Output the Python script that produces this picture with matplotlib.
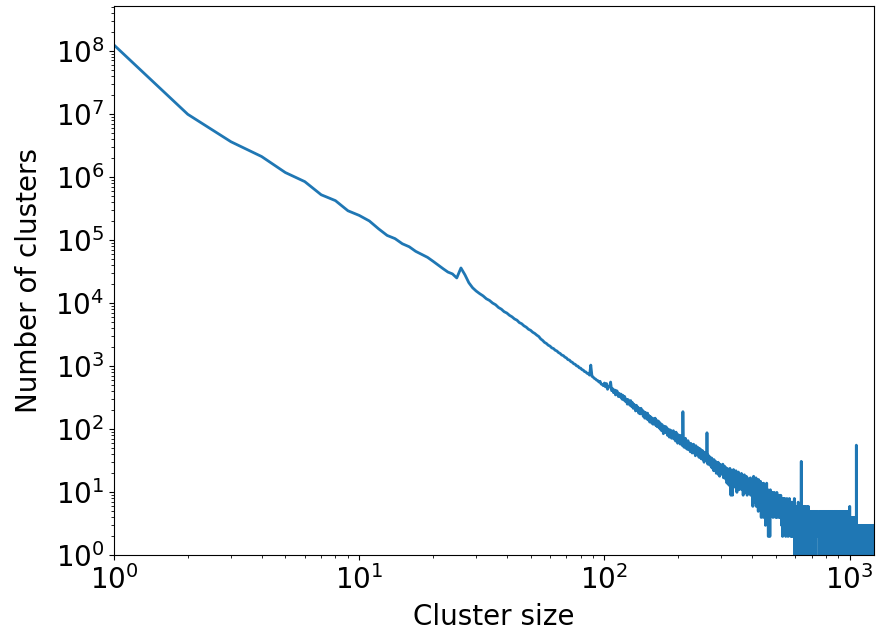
import numpy as np
import matplotlib
matplotlib.use("Agg")
import matplotlib.pyplot as plt

# Number of clusters for cluster sizes 1..99
head_counts = [
    1.23e8, 9.8e6, 3.6e6, 2.1e6, 1.17e6, 8.4e5, 5.2e5, 4.2e5, 2.9e5, 2.45e5,
    2.0e5, 1.5e5, 1.18e5, 1.05e5, 8.7e4, 7.8e4, 6.6e4, 5.9e4, 5.3e4, 4.6e4,
    4.0e4, 3.5e4, 3.1e4, 2.9e4, 2.5e4, 3.6e4, 2.8e4, 2.1e4, 1.75e4, 1.55e4,
    14100, 13000, 11700, 11000, 10000, 9400, 8500, 8000, 7300, 6950,
    6400, 6050, 5600, 5350, 4900, 4700, 4350, 4150, 3850, 3700,
    3450, 3300, 3100, 2950, 2700, 2560, 2380, 2290, 2150, 2080,
    1950, 1900, 1790, 1740, 1640, 1590, 1500, 1470, 1390, 1350,
    1270, 1250, 1180, 1150, 1090, 1070, 1010, 1000, 940, 930,
    880, 865, 820, 810, 770, 760, 720, 1040, 690, 670,
    640, 625, 600, 590, 560, 575, 520, 515, 490,
]

# Number of clusters for cluster sizes 100..1257 (estimated from the noisy tail)
tail_counts = [
    540, 470, 530, 430, 465, 475, 560, 410, 440, 380,
    420, 350, 410, 395, 330, 370, 325, 360, 300, 345,
    290, 330, 275, 300, 250, 295, 265, 240, 285, 230,
    265, 215, 250, 225, 195, 240, 200, 225, 180, 210,
    175, 215, 180, 200, 160, 190, 150, 185, 170, 145,
    180, 140, 165, 130, 158, 155, 125, 150, 120, 145,
    125, 150, 115, 140, 110, 130, 135, 105, 128, 100,
    122, 95, 118, 100, 85, 112, 108, 88, 110, 92,
    105, 80, 100, 90, 75, 98, 85, 95, 72, 92,
    78, 95, 70, 88, 80, 65, 90, 74, 82, 60,
    82, 64, 78, 70, 58, 80, 66, 72, 55, 190,
    70, 52, 68, 60, 72, 50, 65, 58, 48, 66,
    62, 48, 58, 52, 44, 60, 50, 55, 42, 56,
    48, 58, 42, 53, 45, 38, 55, 46, 50, 40,
    52, 40, 47, 36, 50, 42, 38, 48, 34, 45,
    38, 46, 33, 44, 40, 30, 43, 36, 41, 32,
    40, 32, 88, 35, 28, 39, 33, 30, 37, 27,
    36, 28, 33, 25, 35, 30, 24, 32, 29, 22,
    33, 26, 30, 22, 31, 27, 20, 30, 25, 28,
    24, 30, 19, 27, 25, 18, 28, 23, 21, 26,
    27, 21, 25, 19, 28, 22, 17, 24, 20, 26,
    22, 18, 25, 16, 23, 20, 14, 24, 19, 21,
    17, 23, 13, 20, 18, 24, 15, 19, 9, 22,
    18, 14, 21, 9, 20, 16, 23, 13, 17, 19,
    15, 20, 12, 18, 22, 14, 17, 10, 19, 16,
    18, 13, 21, 15, 11, 17, 19, 14, 16, 12,
    17, 13, 20, 11, 15, 18, 12, 16, 9, 14,
    16, 12, 19, 13, 10, 15, 17, 11, 14, 18,
    12, 15, 9, 17, 13, 11, 16, 14, 10, 13,
    15, 10, 14, 12, 17, 9, 13, 11, 16, 12,
    10, 16, 12, 6, 15, 11, 18, 7, 16, 12,
    11, 15, 7, 14, 10, 17, 6, 15, 11, 9,
    14, 8, 13, 10, 5, 16, 11, 7, 12, 10,
    7, 13, 10, 15, 6, 11, 4, 14, 10, 8,
    12, 6, 13, 9, 10, 4, 14, 8, 11, 7,
    10, 5, 13, 9, 3, 11, 5, 12, 8, 14,
    8, 10, 6, 9, 11, 7, 2, 9, 10, 8,
    9, 7, 10, 2, 8, 11, 6, 9, 7, 10,
    6, 9, 8, 5, 10, 7, 9, 4, 8, 7,
    9, 6, 8, 10, 5, 7, 9, 6, 8, 4,
    7, 9, 5, 8, 6, 10, 4, 7, 8, 6,
    8, 5, 7, 9, 6, 4, 8, 7, 5, 9,
    6, 8, 4, 7, 9, 5, 6, 8, 3, 7,
    5, 7, 6, 2, 8, 6, 4, 7, 5, 8,
    6, 4, 7, 5, 8, 3, 6, 5, 7, 2,
    5, 7, 4, 6, 3, 8, 5, 6, 4, 7,
    6, 2, 5, 7, 4, 6, 3, 5, 8, 4,
    5, 6, 3, 7, 4, 2, 6, 5, 4, 7,
    3, 6, 5, 2, 7, 4, 5, 3, 6, 4,
    5, 2, 6, 4, 3, 8, 4, 5, 0, 4,
    5, 3, 0, 6, 4, 2, 0, 5, 3, 4,
    0, 6, 2, 4, 5, 0, 3, 7, 1, 4,
    5, 0, 2, 6, 3, 4, 0, 5, 2, 3,
    6, 0, 4, 3, 5, 31, 2, 0, 4, 5,
    3, 6, 0, 2, 4, 5, 1, 0, 3, 6,
    4, 2, 0, 5, 3, 4, 0, 6, 2, 3,
    5, 0, 1, 4, 3, 0, 5, 2, 6, 0,
    3, 4, 2, 0, 5, 3, 1, 4, 0, 6,
    2, 3, 0, 5, 4, 1, 0, 3, 5, 2,
    0, 4, 3, 5, 0, 2, 4, 1, 0, 5,
    3, 2, 0, 4, 5, 1, 3, 0, 2, 4,
    0, 5, 3, 2, 0, 4, 1, 3, 5, 0,
    2, 4, 0, 3, 1, 5, 0, 2, 4, 3,
    2, 2, 5, 3, 4, 3, 2, 4, 3, 2,
    5, 3, 2, 4, 3, 2, 3, 4, 2, 3,
    0, 4, 2, 5, 0, 3, 1, 4, 0, 2,
    3, 5, 0, 2, 4, 1, 0, 3, 5, 2,
    0, 4, 2, 3, 0, 5, 1, 2, 0, 4,
    3, 0, 2, 5, 1, 3, 0, 4, 2, 0,
    3, 5, 1, 0, 4, 2, 3, 0, 5, 1,
    0, 3, 4, 2, 0, 5, 1, 3, 0, 2,
    4, 0, 3, 1, 5, 0, 2, 4, 0, 3,
    2, 5, 0, 1, 3, 4, 0, 2, 5, 0,
    3, 1, 4, 0, 2, 3, 0, 5, 1, 2,
    0, 4, 3, 0, 2, 5, 1, 0, 3, 4,
    2, 0, 3, 1, 5, 0, 2, 4, 0, 3,
    1, 4, 0, 2, 3, 0, 5, 1, 2, 0,
    4, 3, 0, 2, 1, 5, 0, 3, 2, 0,
    4, 1, 3, 0, 2, 5, 0, 1, 3, 4,
    0, 2, 3, 0, 5, 1, 2, 0, 4, 3,
    0, 1, 4, 2, 0, 3, 5, 0, 2, 1,
    3, 0, 4, 2, 0, 1, 3, 5, 0, 2,
    1, 4, 0, 3, 2, 0, 5, 1, 0, 3,
    2, 0, 4, 1, 3, 0, 2, 5, 0, 1,
    3, 2, 0, 4, 1, 0, 3, 2, 5, 0,
    1, 3, 0, 2, 4, 0, 1, 3, 0, 5,
    2, 0, 3, 1, 4, 0, 2, 3, 0, 1,
    4, 0, 2, 3, 0, 5, 1, 2, 0, 3,
    1, 4, 0, 2, 3, 0, 1, 5, 0, 2,
    3, 0, 1, 4, 2, 0, 3, 1, 0, 2,
    0, 6, 2, 0, 3, 1, 4, 0, 2, 3,
    0, 2, 4, 1, 0, 3, 2, 0, 4, 1,
    2, 0, 3, 2, 0, 4, 1, 0, 3, 2,
    0, 1, 4, 2, 0, 3, 0, 2, 1, 3,
    0, 2, 3, 0, 1, 4, 0, 2, 3, 0,
    2, 1, 0, 3, 2, 0, 4, 1, 0, 2,
    3, 0, 2, 1, 0, 56, 2, 0, 3, 1,
    0, 2, 3, 0, 1, 2, 0, 3, 2, 0,
    1, 3, 0, 2, 0, 3, 1, 0, 2, 3,
    0, 2, 1, 0, 3, 2, 0, 1, 3, 0,
    2, 3, 0, 1, 2, 0, 3, 2, 0, 1,
    3, 0, 2, 0, 3, 1, 0, 2, 3, 0,
    1, 2, 0, 3, 2, 0, 1, 3, 0, 2,
    0, 3, 1, 0, 2, 3, 0, 2, 0, 1,
    3, 0, 2, 1, 0, 3, 2, 0, 1, 2,
    0, 3, 0, 2, 1, 0, 3, 2, 0, 2,
    1, 0, 3, 2, 0, 1, 2, 0, 3, 0,
    2, 1, 0, 3, 0, 2, 1, 0, 2, 3,
    0, 1, 2, 0, 3, 0, 2, 0, 1, 3,
    0, 2, 0, 1, 3, 0, 2, 1, 0, 2,
    3, 0, 1, 2, 0, 3, 0, 2, 1, 0,
    2, 3, 0, 1, 0, 2, 3, 0, 1, 2,
    0, 3, 0, 2, 1, 0, 2, 3, 0, 1,
    2, 0, 3, 0, 1, 2, 0, 3, 2, 0,
    1, 2, 0, 3, 0, 2, 1, 0, 3, 0,
    2, 0, 1, 3, 0, 2, 0, 3,
]

x_label = "Cluster size"
y_label = "Number of clusters"

counts = np.array(head_counts + tail_counts, dtype=float)
sizes = np.arange(1, len(counts) + 1)

fig = plt.figure(figsize=(8.91, 6.31), dpi=100)
ax = fig.add_axes([0.1279, 0.1197, 0.8530, 0.8708])
ax.plot(sizes, counts, color="#1f77b4", linewidth=2.0)
ax.set_xscale("log")
ax.set_yscale("log")
ax.set_xlim(sizes[0], sizes[-1])
ax.set_ylim(1, 5.1e8)
ax.set_xlabel(x_label, fontsize=20, labelpad=6)
ax.set_ylabel(y_label, fontsize=20, labelpad=9)
ax.tick_params(axis="both", which="major", labelsize=20)

fig.savefig("out.png", dpi=100)
